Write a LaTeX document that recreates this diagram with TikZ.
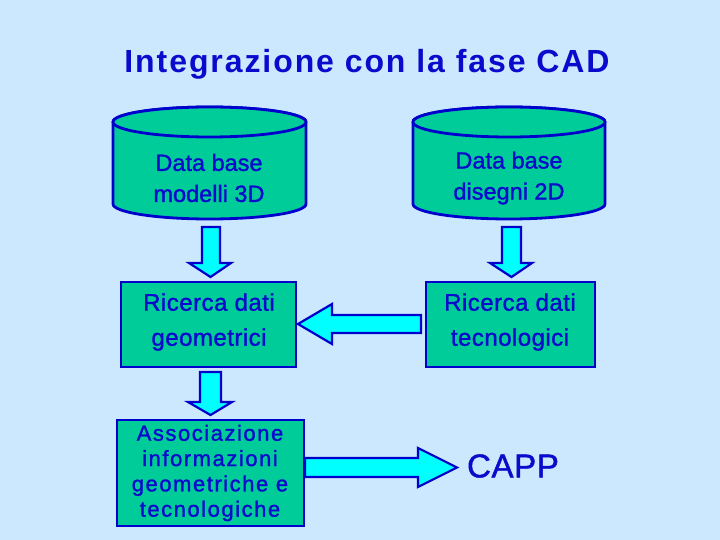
\documentclass[tikz,border=0pt]{standalone}
\usepackage{fontspec}
\setmainfont{Liberation Sans}
\newfontfamily\bodyfont[FakeBold=1.3]{Liberation Sans}
\definecolor{bgblue}{HTML}{CCE8FF}
\definecolor{teal}{HTML}{00CC99}
\definecolor{dkblue}{HTML}{0000CC}
\definecolor{txtblue}{HTML}{0A0ACC}
\definecolor{cyanfill}{HTML}{00FFFF}
\begin{document}
\begin{tikzpicture}[x=1pt,y=-1pt,
  db/.style={fill=teal,draw=dkblue,line width=2.8pt},
  boxed/.style={fill=teal,draw=dkblue,line width=2.5pt},
  blockarrow/.style={fill=cyanfill,draw=dkblue,line width=2.2pt,line join=miter},
  lbl/.style={text=txtblue,align=center,inner sep=0pt}]
\useasboundingbox (0,0) rectangle (720,540);
\fill[bgblue] (0,0) rectangle (720,540);
% title
\node[lbl,font=\fontsize{32}{36}\selectfont\bfseries\addfontfeature{LetterSpace=6}] (title) at (367,64) {Integrazione con la fase CAD};
% cylinder 1
\draw[db] (113,122) -- (113,204) arc[start angle=180,end angle=360,x radius=96.5,y radius=-15] -- (306,122)
  arc[start angle=0,end angle=180,x radius=96.5,y radius=-15];
\draw[db] (209.5,122) ellipse[x radius=96.5,y radius=15];
\node[lbl,font=\bodyfont\fontsize{23.5}{31}\selectfont] (db1) at (209,178) {Data base\\modelli 3D};
% cylinder 2
\draw[db] (413,122) -- (413,204) arc[start angle=180,end angle=360,x radius=96,y radius=-15] -- (605,122)
  arc[start angle=0,end angle=180,x radius=96,y radius=-15];
\draw[db] (509,122) ellipse[x radius=96,y radius=15];
\node[lbl,font=\bodyfont\fontsize{23.5}{31}\selectfont] (db2) at (509,178) {Data base\\disegni 2D};
% boxes
\draw[boxed] (121,282) rectangle (296,367);
\node[lbl,font=\bodyfont\fontsize{24}{35}\selectfont\addfontfeature{LetterSpace=2}] (geo) at (209,322) {Ricerca dati\\geometrici};
\draw[boxed] (426,282) rectangle (595,367);
\node[lbl,font=\bodyfont\fontsize{24}{35}\selectfont\addfontfeature{LetterSpace=2}] (tec) at (510,322) {Ricerca dati\\tecnologici};
\draw[boxed] (117,420) rectangle (304,526);
\node[lbl,font=\bodyfont\fontsize{22}{25.3}\selectfont\addfontfeature{LetterSpace=7}] (assoc) at (210,473) {Associazione\\informazioni\\geometriche e\\tecnologiche};
\node[lbl,font=\bodyfont\fontsize{33}{37}\selectfont\addfontfeature{LetterSpace=2}] (capp) at (513,466) {CAPP};
% arrows
\draw[blockarrow] (202,227) -- (220,227) -- (220,263) -- (231,263) -- (210.5,277) -- (189,263) -- (202,263) -- cycle;
\draw[blockarrow] (502,227) -- (521,227) -- (521,263) -- (532,263) -- (511.5,277) -- (490,263) -- (502,263) -- cycle;
\draw[blockarrow] (421,315) -- (421,333) -- (332,333) -- (332,344) -- (298,324) -- (332,304) -- (332,315) -- cycle;
\draw[blockarrow] (200,372) -- (221,372) -- (221,402) -- (232,402) -- (210.5,415) -- (188,402) -- (200,402) -- cycle;
\draw[blockarrow] (305,458) -- (418,458) -- (418,448) -- (457,467.5) -- (418,487) -- (418,477) -- (305,477) -- cycle;
\end{tikzpicture}
\end{document}
